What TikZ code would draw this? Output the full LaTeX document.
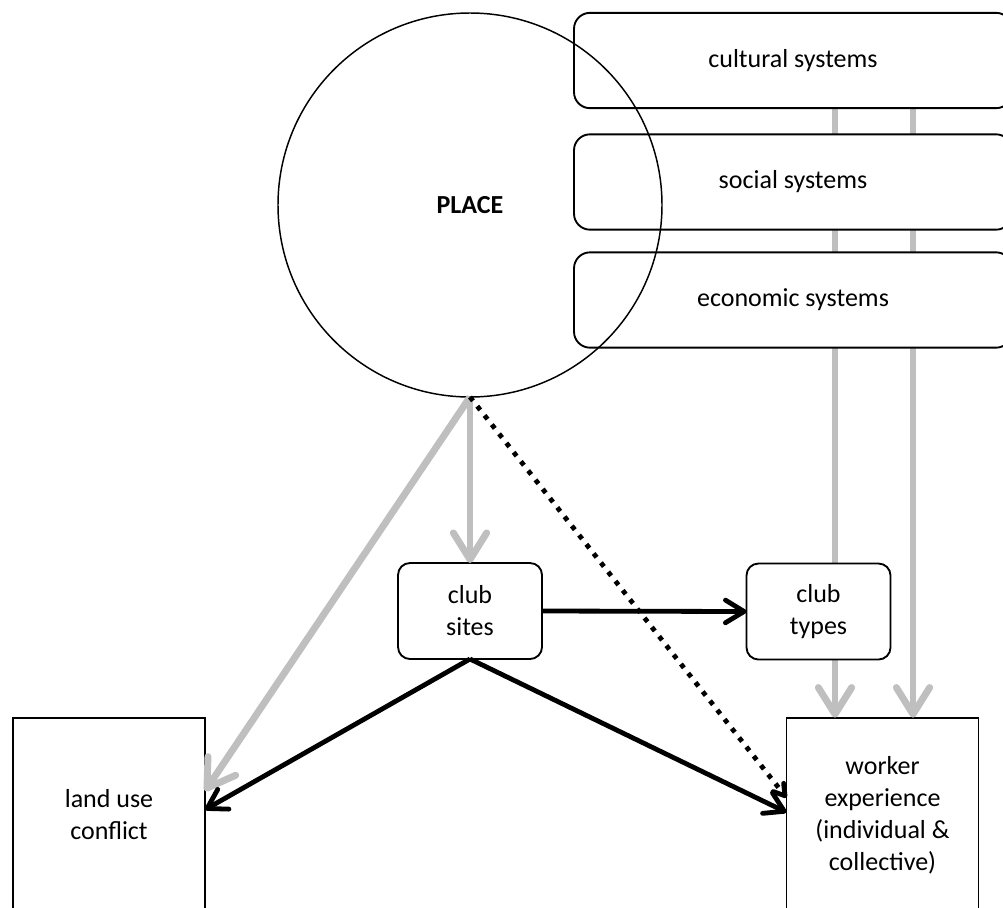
\documentclass[tikz,border=0pt]{standalone}
\usepackage{fontspec}
\setmainfont{Carlito}
\usetikzlibrary{arrows.meta}

\begin{document}
\begin{tikzpicture}[x=0.75pt, y=-0.75pt,
	every node/.style={font=\fontsize{19.5}{24}\selectfont, align=center, inner sep=0pt, outer sep=0pt},
	sysbox/.style={draw, line width=1.4pt, rounded corners=12pt, fill=white, minimum width=328.5pt, minimum height=71.5pt},
	clubbox/.style={draw, line width=1.4pt, rounded corners=9pt, fill=white, minimum width=108pt, minimum height=72pt},
	endbox/.style={draw, line width=1.4pt, fill=white, minimum width=144pt, minimum height=146pt},
	grayarrow/.style={draw=black!25, line width=5.2pt, -{Straight Barb[length=20pt, width=25pt, round]}},
	blackarrow/.style={draw=black, line width=3.6pt, -{Straight Barb[length=14pt, width=17pt, round]}},
	dotarrow/.style={draw=black, line width=3.6pt, dash pattern=on 3.6pt off 5.2pt, -{Straight Barb[length=8pt, width=10pt, round]}}]
	\useasboundingbox (0,0) rectangle (1003,907);
	\clip (0,0) rectangle (1003,907);
	% columns of the gray lines
	\coordinate (g1) at (835,0);
	\coordinate (g2) at (913,0);
	\node[endbox] (worker) at (882.5,815) {worker\\experience\\(individual \&\\collective)};
	\node[endbox] (land) at (109,815) {land use\\conflict};
	\coordinate (cultbot) at (835,108);
	\draw[grayarrow] (cultbot) -- (worker.north -| g1);
	\draw[grayarrow] (cultbot -| g2) -- (worker.north -| g2);
	% systems
	\node[sysbox] (cult) at (793,60.5) {cultural systems};
	\node[sysbox] (social) at (793,182) {social systems};
	\node[sysbox] (econ) at (793,300) {economic systems};
	\node[circle, draw, line width=1.1pt, minimum size=288pt] (place) at (470,205) {\textbf{PLACE}};
	% clubs
	\node[clubbox] (sites) at (470,611) {club\\sites};
	\node[clubbox] (types) at (818.5,611.5) {club\\types};
	\draw[grayarrow] (place.south) -- (sites.north);
	\draw[grayarrow] (place.south) -- ([yshift=18pt]land.east);
	\draw[dotarrow] (place.south) -- ([yshift=13pt]worker.west);
	\draw[blackarrow] (sites.east) -- (types.west);
	\draw[blackarrow] (sites.south) -- ([yshift=4pt]land.east);
	\draw[blackarrow] (sites.south) -- ([yshift=2pt]worker.west);
\end{tikzpicture}
\end{document}
